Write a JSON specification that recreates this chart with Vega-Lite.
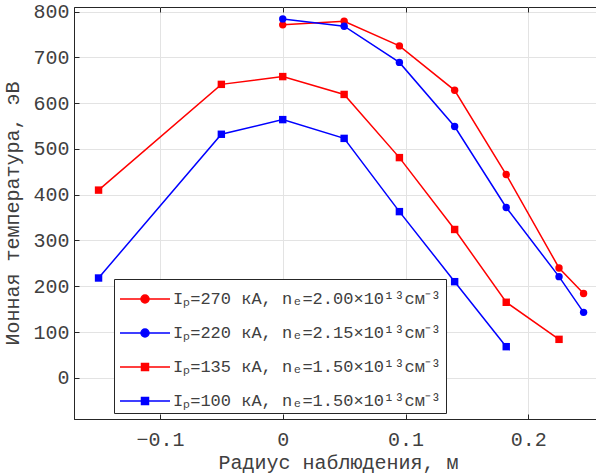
{
  "$schema": "https://vega.github.io/schema/vega-lite/v6.json",
  "width": 528,
  "height": 412,
  "autosize": "none",
  "padding": {"left": 74, "top": 7, "right": 0, "bottom": 55},
  "background": "white",
  "config": {
    "font": "Liberation Mono",
    "view": {"stroke": "#262626", "strokeWidth": 1},
    "axis": {
      "labelFont": "Liberation Mono",
      "titleFont": "Liberation Mono",
      "labelFontSize": 20,
      "titleFontSize": 20,
      "titleFontWeight": "normal",
      "labelColor": "#404040",
      "titleColor": "#404040",
      "domainColor": "#262626",
      "tickColor": "#262626",
      "gridColor": "#e3e3e3",
      "tickSize": -5
    }
  },
  "data": {
    "values": [
      {"s": "Iₚ=270 кА, nₑ=2.00×10¹³см⁻³", "x": 0, "y": 771},
      {"s": "Iₚ=270 кА, nₑ=2.00×10¹³см⁻³", "x": 0.05, "y": 779},
      {"s": "Iₚ=270 кА, nₑ=2.00×10¹³см⁻³", "x": 0.095, "y": 725},
      {"s": "Iₚ=270 кА, nₑ=2.00×10¹³см⁻³", "x": 0.14, "y": 628},
      {"s": "Iₚ=270 кА, nₑ=2.00×10¹³см⁻³", "x": 0.182, "y": 444},
      {"s": "Iₚ=270 кА, nₑ=2.00×10¹³см⁻³", "x": 0.225, "y": 240},
      {"s": "Iₚ=270 кА, nₑ=2.00×10¹³см⁻³", "x": 0.245, "y": 184},
      {"s": "Iₚ=220 кА, nₑ=2.15×10¹³см⁻³", "x": 0, "y": 784},
      {"s": "Iₚ=220 кА, nₑ=2.15×10¹³см⁻³", "x": 0.05, "y": 768},
      {"s": "Iₚ=220 кА, nₑ=2.15×10¹³см⁻³", "x": 0.095, "y": 689},
      {"s": "Iₚ=220 кА, nₑ=2.15×10¹³см⁻³", "x": 0.14, "y": 549},
      {"s": "Iₚ=220 кА, nₑ=2.15×10¹³см⁻³", "x": 0.182, "y": 372},
      {"s": "Iₚ=220 кА, nₑ=2.15×10¹³см⁻³", "x": 0.225, "y": 221},
      {"s": "Iₚ=220 кА, nₑ=2.15×10¹³см⁻³", "x": 0.245, "y": 143},
      {"s": "Iₚ=135 кА, nₑ=1.50×10¹³см⁻³", "x": -0.15, "y": 410},
      {"s": "Iₚ=135 кА, nₑ=1.50×10¹³см⁻³", "x": -0.05, "y": 641},
      {"s": "Iₚ=135 кА, nₑ=1.50×10¹³см⁻³", "x": 0, "y": 658},
      {"s": "Iₚ=135 кА, nₑ=1.50×10¹³см⁻³", "x": 0.05, "y": 619},
      {"s": "Iₚ=135 кА, nₑ=1.50×10¹³см⁻³", "x": 0.095, "y": 481},
      {"s": "Iₚ=135 кА, nₑ=1.50×10¹³см⁻³", "x": 0.14, "y": 324},
      {"s": "Iₚ=135 кА, nₑ=1.50×10¹³см⁻³", "x": 0.182, "y": 165},
      {"s": "Iₚ=135 кА, nₑ=1.50×10¹³см⁻³", "x": 0.225, "y": 84},
      {"s": "Iₚ=100 кА, nₑ=1.50×10¹³см⁻³", "x": -0.15, "y": 218},
      {"s": "Iₚ=100 кА, nₑ=1.50×10¹³см⁻³", "x": -0.05, "y": 532},
      {"s": "Iₚ=100 кА, nₑ=1.50×10¹³см⁻³", "x": 0, "y": 564},
      {"s": "Iₚ=100 кА, nₑ=1.50×10¹³см⁻³", "x": 0.05, "y": 523},
      {"s": "Iₚ=100 кА, nₑ=1.50×10¹³см⁻³", "x": 0.095, "y": 363},
      {"s": "Iₚ=100 кА, nₑ=1.50×10¹³см⁻³", "x": 0.14, "y": 210},
      {"s": "Iₚ=100 кА, nₑ=1.50×10¹³см⁻³", "x": 0.182, "y": 68}
    ]
  },
  "resolve": {"axis": {"x": "independent"}},
  "layer": [
    {
      "mark": {"type": "line", "strokeWidth": 1.5, "clip": true},
      "encoding": {
        "x": {
          "field": "x", "type": "quantitative",
          "scale": {"domain": [-0.17, 0.26], "nice": false, "zero": false},
          "axis": {"values": [-0.1, 0, 0.1, 0.2], "format": "~g", "title": "Радиус наблюдения, м", "labelPadding": 15, "titlePadding": 3}
        },
        "y": {
          "field": "y", "type": "quantitative",
          "scale": {"domain": [-90, 810], "nice": false, "zero": false},
          "axis": {"values": [0, 100, 200, 300, 400, 500, 600, 700, 800], "title": "Ионная температура, эВ", "labelPadding": 10, "titlePadding": 10}
        },
        "color": {
          "field": "s", "type": "nominal",
          "sort": ["Iₚ=270 кА, nₑ=2.00×10¹³см⁻³", "Iₚ=220 кА, nₑ=2.15×10¹³см⁻³", "Iₚ=135 кА, nₑ=1.50×10¹³см⁻³", "Iₚ=100 кА, nₑ=1.50×10¹³см⁻³"],
          "scale": {
            "domain": ["Iₚ=270 кА, nₑ=2.00×10¹³см⁻³", "Iₚ=220 кА, nₑ=2.15×10¹³см⁻³", "Iₚ=135 кА, nₑ=1.50×10¹³см⁻³", "Iₚ=100 кА, nₑ=1.50×10¹³см⁻³"],
            "range": ["#ff0000", "#0000ff", "#ff0000", "#0000ff"]
          },
          "legend": {
            "orient": "none",
            "legendX": 40,
            "legendY": 272,
            "title": null,
            "fillColor": "white",
            "strokeColor": "#262626",
            "padding": 4,
            "labelFont": "Liberation Mono",
            "labelFontSize": 17,
            "labelColor": "#404040",
            "labelLimit": 0,
            "labelOffset": 12,
            "symbolOffset": 11,
            "rowPadding": 10,
            "symbolStrokeWidth": 1.5,
            "encode": {
              "symbols": {
                "update": {
                  "shape": {"signal": "datum.index < 2 ? 'M-1.667,0H1.667M0.267,0A0.267,0.267,0,1,1,-0.267,0A0.267,0.267,0,1,1,0.267,0Z' : 'M-1.667,0H1.667M-0.233,-0.233H0.233V0.233H-0.233Z'"},
                  "size": {"value": 900},
                  "fill": {"signal": "datum.index % 2 == 0 ? '#ff0000' : '#0000ff'"},
                  "stroke": {"signal": "datum.index % 2 == 0 ? '#ff0000' : '#0000ff'"}
                }
              }
            }
          }
        },
        "detail": {"field": "s"}
      }
    },
    {
      "transform": [{"filter": "indexof(datum.s, '=270') >= 0 || indexof(datum.s, '=220') >= 0"}],
      "mark": {"type": "point", "shape": "circle", "filled": true, "opacity": 1, "size": 55, "clip": true},
      "encoding": {
        "x": {
          "field": "x", "type": "quantitative",
          "axis": {"orient": "top", "values": [-0.1, 0, 0.1, 0.2], "labels": false, "title": null, "grid": false, "domain": false}
        },
        "y": {"field": "y", "type": "quantitative"},
        "color": {"field": "s", "type": "nominal"}
      }
    },
    {
      "transform": [{"filter": "indexof(datum.s, '=135') >= 0 || indexof(datum.s, '=100') >= 0"}],
      "mark": {"type": "point", "shape": "square", "filled": true, "opacity": 1, "size": 55, "clip": true},
      "encoding": {
        "x": {"field": "x", "type": "quantitative", "axis": null},
        "y": {"field": "y", "type": "quantitative"},
        "color": {"field": "s", "type": "nominal"}
      }
    }
  ]
}
